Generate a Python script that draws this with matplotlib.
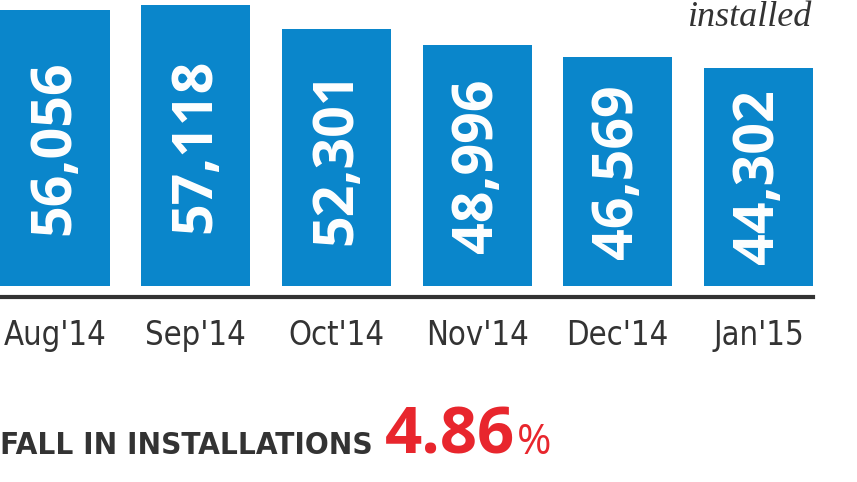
import matplotlib
matplotlib.use('Agg')
import matplotlib.pyplot as plt
from matplotlib import font_manager as fm

months = ["Aug'14", "Sep'14", "Oct'14", "Nov'14", "Dec'14", "Jan'15"]
installs = [56056, 57118, 52301, 48996, 46569, 44302]
unit_note = "installed"
headline = "FALL IN INSTALLATIONS"
fall_value = "4.86"
fall_unit = "%"

names = {f.name for f in fm.fontManager.ttflist}
has_dv_cond = any(f.name == 'DejaVu Sans' and f.stretch in ('condensed', 'semi-condensed')
                  for f in fm.fontManager.ttflist)
if 'Liberation Sans Narrow' in names:
    cond = dict(family=['Liberation Sans Narrow', 'DejaVu Sans'])
elif has_dv_cond:
    cond = dict(family=['DejaVu Sans'], stretch='condensed')
else:
    cond = dict(family=['Liberation Sans', 'DejaVu Sans'])

BLUE = '#0a86cb'
DARK = '#333333'
RED = '#e8262d'

W, H = 857, 482
fig = plt.figure(figsize=(W / 100, H / 100), dpi=100)
ax = fig.add_axes([0, (H - 297) / H, 813 / W, 297 / H])

x = list(range(len(months)))
ax.bar(x, installs, width=0.775, color=BLUE, zorder=2)
ax.set_xlim(-0.391, 5.3875)
ax.set_ylim(-2240, 58130)

for xi, v in zip(x, installs):
    ax.text(xi, v / 2, f"{v:,}", rotation=90, ha='center', va='center',
            color='white', fontsize=40, fontweight='bold',
            family=['Open Sans', 'DejaVu Sans'], zorder=3)

for s in ['top', 'left', 'right']:
    ax.spines[s].set_visible(False)
ax.spines['bottom'].set_color(DARK)
ax.spines['bottom'].set_linewidth(3)
ax.set_yticks([])
ax.set_xticks(x)
ax.set_xticklabels(months, color=DARK, fontsize=23.5, **cond)
ax.tick_params(axis='x', length=0, pad=16)

fig.text(812 / W, 1 - 18 / H, unit_note, ha='right', va='center', color=DARK,
         fontsize=26, style='italic', family=['Liberation Serif', 'DejaVu Serif'])

base_y = 1 - 454 / H
t1 = fig.text(0 / W, base_y, headline, ha='left', va='baseline', color=DARK,
              fontsize=22.5, fontweight='bold', **cond)
fig.canvas.draw()
r = fig.canvas.get_renderer()
bb1 = t1.get_window_extent(r)
t2 = fig.text((bb1.x1 + 12) / W, base_y, fall_value, ha='left', va='baseline', color=RED,
              fontsize=47, fontweight='bold', family=['Open Sans', 'DejaVu Sans'])
bb2 = t2.get_window_extent(r)
fig.text((bb2.x1 + 2) / W, base_y, fall_unit, ha='left', va='baseline', color=RED,
         fontsize=30, family=['Open Sans', 'DejaVu Sans'])

fig.savefig('out.png', dpi=100)
